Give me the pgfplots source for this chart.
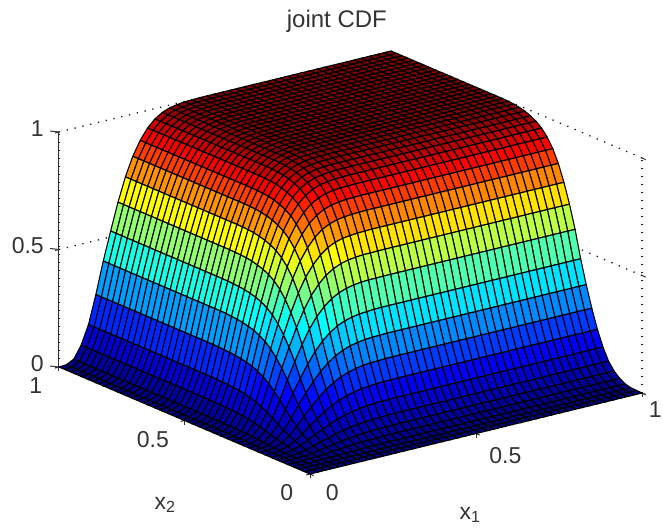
\documentclass[border=0pt]{standalone}
\usepackage{fontspec}
\setmainfont{Liberation Sans}
\usepackage{pgfplots}
\pgfplotsset{compat=1.18}
% repeat helpers: the z values below are typed as plain numbers, repeated where rows or cells are equal
\def\nine#1{#1\\#1\\#1\\#1\\#1\\#1\\#1\\#1\\#1\\}
\def\ts#1{\nine{#1}\nine{#1}\nine{#1}}
\def\rowone{\ts{1}.999\\.998\\.994\\.988\\.976\\.956\\.925\\.88\\.82\\.74\\.64\\.525\\.405\\.27\\.15\\.07\\.018\\.002\\0\\}
\def\rs{\rowone\rowone\rowone\rowone\rowone\rowone\rowone}
\begingroup
\let\\\relax
\xdef\zdata{%
\rs\rs\rs
\ts{.999}.998\\.997\\.993\\.987\\.975\\.955\\.924\\.879\\.819\\.739\\.639\\.524\\.405\\.27\\.15\\.07\\.018\\.002\\0\\%
\ts{.997}.996\\.995\\.991\\.985\\.973\\.953\\.922\\.877\\.818\\.738\\.638\\.523\\.404\\.269\\.15\\.07\\.018\\.002\\0\\%
\ts{.993}.992\\.991\\.987\\.981\\.969\\.949\\.919\\.874\\.814\\.735\\.636\\.521\\.402\\.268\\.149\\.07\\.018\\.002\\0\\%
\ts{.987}.986\\.985\\.981\\.975\\.963\\.944\\.913\\.869\\.809\\.73\\.632\\.518\\.4\\.266\\.148\\.069\\.018\\.002\\0\\%
\ts{.977}.976\\.975\\.971\\.965\\.954\\.934\\.904\\.86\\.801\\.723\\.625\\.513\\.396\\.264\\.147\\.068\\.018\\.002\\0\\%
\ts{.964}.963\\.962\\.958\\.952\\.941\\.922\\.892\\.848\\.79\\.713\\.617\\.506\\.39\\.26\\.145\\.067\\.017\\.002\\0\\%
\ts{.945}.944\\.943\\.939\\.934\\.922\\.903\\.874\\.832\\.775\\.699\\.605\\.496\\.383\\.255\\.142\\.066\\.017\\.002\\0\\%
\ts{.917}.916\\.915\\.912\\.906\\.895\\.877\\.848\\.807\\.752\\.679\\.587\\.481\\.371\\.248\\.138\\.064\\.017\\.002\\0\\%
\ts{.878}.877\\.876\\.873\\.867\\.857\\.839\\.812\\.773\\.72\\.65\\.562\\.461\\.356\\.237\\.132\\.061\\.016\\.002\\0\\%
\ts{.825}.824\\.823\\.82\\.815\\.805\\.789\\.763\\.726\\.677\\.611\\.528\\.433\\.334\\.223\\.124\\.058\\.015\\.002\\0\\%
\ts{.755}.754\\.753\\.75\\.746\\.737\\.722\\.698\\.664\\.619\\.559\\.483\\.396\\.306\\.204\\.113\\.053\\.014\\.002\\0\\%
\ts{.672}.671\\.671\\.668\\.664\\.656\\.642\\.622\\.591\\.551\\.497\\.43\\.353\\.272\\.181\\.101\\.047\\.012\\.001\\0\\%
\ts{.575}.574\\.574\\.572\\.568\\.561\\.55\\.532\\.506\\.472\\.426\\.368\\.302\\.233\\.155\\.086\\.04\\.01\\.001\\0\\%
\ts{.46}.46\\.459\\.457\\.454\\.449\\.44\\.426\\.405\\.377\\.34\\.294\\.242\\.186\\.124\\.069\\.032\\.008\\.001\\0\\%
\ts{.36}.36\\.359\\.358\\.356\\.351\\.344\\.333\\.317\\.295\\.266\\.23\\.189\\.146\\.097\\.054\\.025\\.006\\.001\\0\\%
\ts{.27}.27\\.269\\.268\\.267\\.264\\.258\\.25\\.238\\.221\\.2\\.173\\.142\\.109\\.073\\.041\\.019\\.005\\.001\\0\\%
\ts{.19}.19\\.19\\.189\\.188\\.185\\.182\\.176\\.167\\.156\\.141\\.122\\.1\\.077\\.051\\.029\\.013\\.003\\0\\0\\%
\ts{.125}.125\\.125\\.124\\.124\\.122\\.12\\.116\\.11\\.103\\.093\\.08\\.066\\.051\\.034\\.019\\.009\\.002\\0\\0\\%
\ts{.075}.075\\.075\\.075\\.074\\.073\\.072\\.069\\.066\\.062\\.056\\.048\\.039\\.03\\.02\\.011\\.005\\.001\\0\\0\\%
\ts{.043}.043\\.043\\.043\\.042\\.042\\.041\\.04\\.038\\.035\\.032\\.028\\.023\\.017\\.012\\.006\\.003\\.001\\0\\0\\%
\ts{.022}.022\\.022\\.022\\.022\\.021\\.021\\.02\\.019\\.018\\.016\\.014\\.012\\.009\\.006\\.003\\.002\\0\\0\\0\\%
\ts{.008}.008\\.008\\.008\\.008\\.008\\.008\\.007\\.007\\.007\\.006\\.005\\.004\\.003\\.002\\.001\\.001\\0\\0\\0\\%
\ts{.002}.002\\.002\\.002\\.002\\.002\\.002\\.002\\.002\\.002\\.001\\.001\\.001\\.001\\.001\\0\\0\\0\\0\\0\\%
\ts{.001}.001\\.001\\.001\\.001\\.001\\.001\\.001\\.001\\.001\\.001\\.001\\.001\\0\\0\\0\\0\\0\\0\\0\\%
\ts{0}\nine{0}\nine{0}0\\%
}
\endgroup
\begin{document}
\begin{tikzpicture}[x=1pt,y=1pt]
\useasboundingbox (0,0) rectangle (663,531);
\begin{axis}[
  at={(310pt,57pt)},anchor=origin,
  x={(332pt,81pt)},y={(-251pt,107pt)},z={(0pt,235pt)},
  xmin=0,xmax=1,ymin=0,ymax=1,zmin=0,zmax=1,
  xtick={0,0.5,1},ytick={0,0.5,1},ztick={0,0.5,1},
  xticklabels={\hspace*{10pt}0,\hspace*{20pt}0.5,\hspace*{-6pt}1},
  yticklabels={0,\hspace*{-16pt}0.5,1},
  /pgf/number format/assume math mode=true,
  tick label style={font=\fontsize{23}{27}\selectfont,text=black!80},
  xticklabel style={xshift=5pt,yshift=-4pt},
  yticklabel style={xshift=-10pt,yshift=-6pt},
  zticklabel style={xshift=-8pt,yshift=1pt},
  label style={font=\fontsize{23}{27}\selectfont,text=black!80},
  title style={font=\fontsize{24}{28}\selectfont,text=black!80,at={(axis cs:1.054,1.287,1)},anchor=center,yshift=-11pt},
  title={joint CDF},
  xlabel={x\textsubscript{1}},ylabel={x\textsubscript{2}},
  xlabel style={at={(axis cs:0.122,-0.476,0)},anchor=center,rotate=0},
  ylabel style={at={(axis cs:-0.417,0.026,0)},anchor=center,rotate=0},
  colormap={cornerjet}{rgb(0pt)=(0,0,0.5); rgb(170pt)=(0,0,1); rgb(440pt)=(0,1,1); rgb(690pt)=(1,1,0); rgb(900pt)=(1,0,0); rgb(1000pt)=(0.5,0,0)},
  point meta min=0,point meta max=1,
  axis line style={draw=none},
  grid=major,grid style={black!90,line width=1.3pt,dash pattern=on 1.3pt off 6.7pt},
  tick align=outside,major tick length=4pt,tick style={black!80,line width=1pt},
  tick pos=left,
  clip=false,
]
\def\doplot#1{\addplot3[surf,shader=flat,draw=black,line width=1.1pt,line join=round,mesh/rows=46,z buffer=none]
 table[row sep=\\,header=false,x expr={1-mod(\coordindex,46)/45},y expr={1-floor((\coordindex+0.5)/46)/45},z index=0]{#1};}
\expandafter\doplot\expandafter{\zdata}
\draw[black!80,line width=1pt] (axis cs:0,1,0)--(axis cs:0,1,1);
\draw[black!80,line width=1pt] (axis cs:0,1,0)--++(-9pt,1pt) (axis cs:0,1,0.5)--++(-9pt,1pt) (axis cs:0,1,1)--++(-9pt,1pt);
\end{axis}
\end{tikzpicture}
\end{document}
